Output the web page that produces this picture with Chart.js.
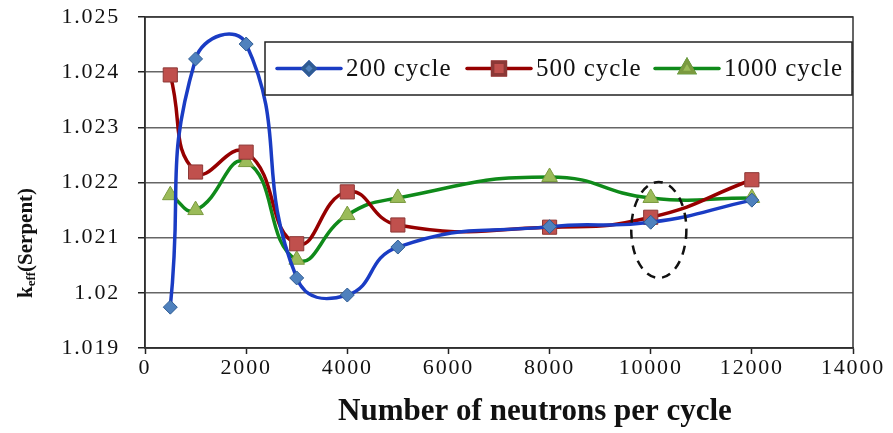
<!doctype html>
<html>
<head>
    <title>keff vs neutrons per cycle</title>
    <script src="https://cdn.jsdelivr.net/npm/chart.js@4/dist/chart.umd.min.js"></script>
    <style>
        html, body { margin:0; padding:0; background:#fff; }
        #wrap { width:893px; height:433px; }
    </style>
</head>
<body>
    <div id="wrap"><canvas id="canvas"></canvas></div>
    <script>
        // neutrons per cycle
        var neutrons = [500, 1000, 2000, 3000, 4000, 5000, 8000, 10000, 12000];
        // keff for each number of cycles
        var cycle200 = [1.01974, 1.02424, 1.02451, 1.02027, 1.01996, 1.02083, 1.0212, 1.02128, 1.02168];
        var cycle500 = [1.02395, 1.02219, 1.02255, 1.02089, 1.02183, 1.02123, 1.02119, 1.02137, 1.02205];
        var cycle1000 = [1.02177, 1.0215, 1.02237, 1.0206, 1.02141, 1.02172, 1.0221, 1.02172, 1.02172];
        var seriesNames = ['200 cycle', '500 cycle', '1000 cycle'];
        var xTicks = [0, 2000, 4000, 6000, 8000, 10000, 12000, 14000];
        var yTicks = [1.019, 1.02, 1.021, 1.022, 1.023, 1.024, 1.025];
        // dashed ellipse marking the 10000 point (data units)
        var ellipse = { x: 10160, y: 1.02114, rx: 545, ry: 0.00087 };

        function pts(ys) {
            return neutrons.map(function (x, i) { return { x: x, y: ys[i] }; });
        }

        var serif = "'Liberation Serif', 'Times New Roman', serif";

        var extras = {
            id: 'extras',
            beforeDraw: function (chart) {
                // the original tick labels are set wide
                chart.ctx.letterSpacing = '1.8px';
            },
            afterDatasetsDraw: function (chart) {
                var ctx = chart.ctx, a = chart.chartArea;
                var xs = chart.scales.x, ys = chart.scales.y;
                ctx.save();
                // plot frame (top & right)
                ctx.strokeStyle = '#333';
                ctx.lineWidth = 1.5;
                ctx.strokeRect(a.left, a.top, a.right - a.left, a.bottom - a.top);

                // dashed ellipse
                var cx = xs.getPixelForValue(ellipse.x), cy = ys.getPixelForValue(ellipse.y);
                var rx = xs.getPixelForValue(ellipse.x + ellipse.rx) - cx;
                var ry = cy - ys.getPixelForValue(ellipse.y + ellipse.ry);
                ctx.setLineDash([9, 7]);
                ctx.strokeStyle = '#111';
                ctx.lineWidth = 2.5;
                ctx.beginPath();
                ctx.ellipse(cx, cy, rx, ry, 0, 0, Math.PI * 2);
                ctx.stroke();
                ctx.setLineDash([]);

                // legend box
                var lx = 265, ly = 42, lw = 587, lh = 53;
                ctx.fillStyle = '#fff';
                ctx.fillRect(lx, ly, lw, lh);
                ctx.strokeStyle = '#222';
                ctx.lineWidth = 1.5;
                ctx.strokeRect(lx, ly, lw, lh);
                var starts = [277, 467, 655];
                ctx.font = '25px ' + serif;
                ctx.letterSpacing = '1px';
                ctx.textBaseline = 'middle';
                chart.data.datasets.forEach(function (ds, i) {
                    var sx = starts[i], my = ly + lh / 2;
                    ctx.strokeStyle = ds.borderColor;
                    ctx.lineWidth = 3.5;
                    ctx.lineCap = 'round';
                    ctx.beginPath();
                    ctx.moveTo(sx, my);
                    ctx.lineTo(sx + 64, my);
                    ctx.stroke();
                    Chart.helpers.drawPoint(ctx, {
                        pointStyle: ds.pointStyle, radius: ds.pointRadius - 1,
                        borderWidth: 1, rotation: 0
                    }, sx + 32, my);
                    ctx.fillStyle = ds.pointBackgroundColor;
                    ctx.strokeStyle = ds.pointBorderColor;
                    ctx.fill();
                    ctx.stroke();
                    ctx.fillStyle = '#111';
                    ctx.fillText(ds.label, sx + 69, my + 1);
                });

                // axis titles
                ctx.letterSpacing = '0px';
                ctx.fillStyle = '#111';
                ctx.textAlign = 'center';
                ctx.textBaseline = 'middle';
                ctx.font = 'bold 31px ' + serif;
                ctx.fillText('Number of neutrons per cycle', 535, 412);

                ctx.translate(27, 243);
                ctx.rotate(-Math.PI / 2);
                ctx.textAlign = 'left';
                var big = 'bold 21px ' + serif, small = 'bold 13px ' + serif;
                ctx.font = big;
                var w1 = ctx.measureText('k').width;
                var w3 = ctx.measureText('(Serpent)').width;
                ctx.font = small;
                var w2 = ctx.measureText('eff').width;
                var x0 = -(w1 + w2 + w3) / 2;
                ctx.font = big;
                ctx.fillText('k', x0, 0);
                ctx.font = small;
                ctx.fillText('eff', x0 + w1, 5);
                ctx.font = big;
                ctx.fillText('(Serpent)', x0 + w1 + w2, 0);
                ctx.restore();
            }
        };

        var config = {
            type: 'line',
            data: {
                datasets: [{
                    label: seriesNames[0], data: pts(cycle200),
                    borderColor: '#1a3cc4', pointBackgroundColor: '#4f81bd', pointBorderColor: '#2f5c93',
                    pointStyle: 'rectRot', pointRadius: 7
                }, {
                    label: seriesNames[1], data: pts(cycle500),
                    borderColor: '#960000', pointBackgroundColor: '#c0504d', pointBorderColor: '#8c3836',
                    pointStyle: 'rect', pointRadius: 10
                }, {
                    label: seriesNames[2], data: pts(cycle1000),
                    borderColor: '#0f8a1a', pointBackgroundColor: '#9bbb59', pointBorderColor: '#7a9a3f',
                    pointStyle: 'triangle', pointRadius: 9
                }]
            },
            options: {
                responsive: true,
                maintainAspectRatio: false,
                animation: false,
                layout: { autoPadding: false, padding: { top: 17, right: 40, left: 0, bottom: 0 } },
                elements: {
                    line: { borderWidth: 3.5, tension: 0.5, fill: false },
                    point: { borderWidth: 1 }
                },
                plugins: { legend: { display: false }, tooltip: { enabled: false } },
                scales: {
                    x: {
                        type: 'linear', min: 0, max: 14000,
                        afterBuildTicks: function (s) { s.ticks = xTicks.map(function (v) { return { value: v }; }); },
                        afterFit: function (s) { s.height = 85; },
                        border: { color: '#222', width: 1.5 },
                        grid: { drawOnChartArea: false, tickLength: 6, tickColor: '#222', tickWidth: 1.5 },
                        ticks: {
                            padding: 1, color: '#111', font: { family: serif, size: 22 },
                            callback: function (v) { return String(v); }
                        }
                    },
                    y: {
                        min: 1.019, max: 1.025,
                        afterBuildTicks: function (s) { s.ticks = yTicks.map(function (v) { return { value: v }; }); },
                        afterFit: function (s) { s.width = 145; s.paddingTop = 0; s.paddingBottom = 0; },
                        border: { color: '#222', width: 1.5 },
                        grid: { color: '#666', lineWidth: 1.5, tickLength: 7, tickColor: '#222' },
                        ticks: {
                            padding: 18, color: '#111', font: { family: serif, size: 22 },
                            callback: function (v) { return String(parseFloat(v.toFixed(3))); }
                        }
                    }
                }
            },
            plugins: [extras]
        };

        window.onload = function () {
            var ctx = document.getElementById('canvas').getContext('2d');
            window.myLine = new Chart(ctx, config);
        };
    </script>
</body>
</html>
